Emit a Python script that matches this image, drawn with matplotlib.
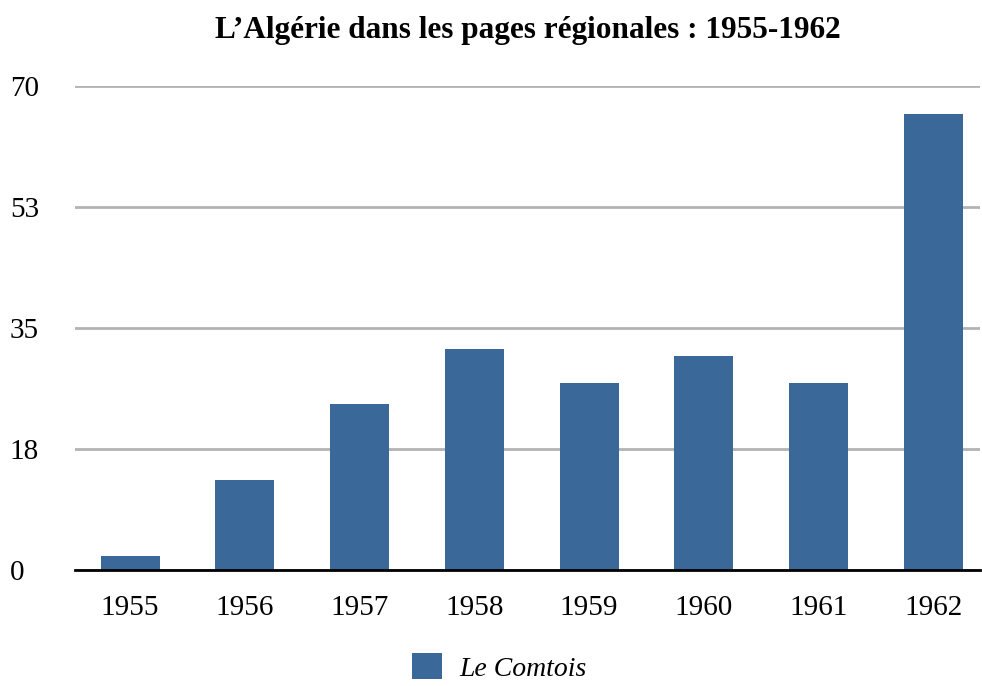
import matplotlib.pyplot as plt
import numpy as np

# data
years = ["1955", "1956", "1957", "1958", "1959", "1960", "1961", "1962"]
le_comtois = [2, 13, 24, 32, 27, 31, 27, 66]
tick_values = [0, 17.5, 35, 52.5, 70]
tick_labels = ["0", "18", "35", "53", "70"]

plt.rcParams["font.family"] = ["Liberation Serif", "DejaVu Serif"]

fig = plt.figure(figsize=(9.82, 6.86), dpi=100)
ax = fig.add_axes([0.0764, 0.169, 0.922, 0.7056])

x = np.arange(len(years))
ax.bar(x, le_comtois, width=0.515, color="#3a6899", label="Le Comtois", zorder=3)

ax.set_xlim(-0.48, 7.41)
ax.set_ylim(0, 70)
ax.set_yticks(tick_values)
ax.set_yticklabels(tick_labels, fontsize=21, ha="left")
ax.set_xticks(x)
ax.set_xticklabels(years, fontsize=21)
ax.tick_params(axis="x", length=0, pad=18)
ax.tick_params(axis="y", length=0, pad=47)

ax.grid(axis="y", color="#b3b3b3", linewidth=2, zorder=0)
for s in ["top", "right", "left"]:
    ax.spines[s].set_visible(False)
ax.spines["bottom"].set_linewidth(2)
ax.spines["bottom"].set_zorder(4)

fig.suptitle("L\u2019Alg\u00e9rie dans les pages r\u00e9gionales : 1955-1962",
             fontsize=22.5, fontweight="bold", x=0.538, y=0.976)

leg = fig.legend(loc="lower center", bbox_to_anchor=(0.508, -0.03), frameon=False,
                 prop={"size": 20, "style": "italic"}, handlelength=1.1,
                 handleheight=1.1, handletextpad=0.6)

fig.savefig("out.png", dpi=100)
